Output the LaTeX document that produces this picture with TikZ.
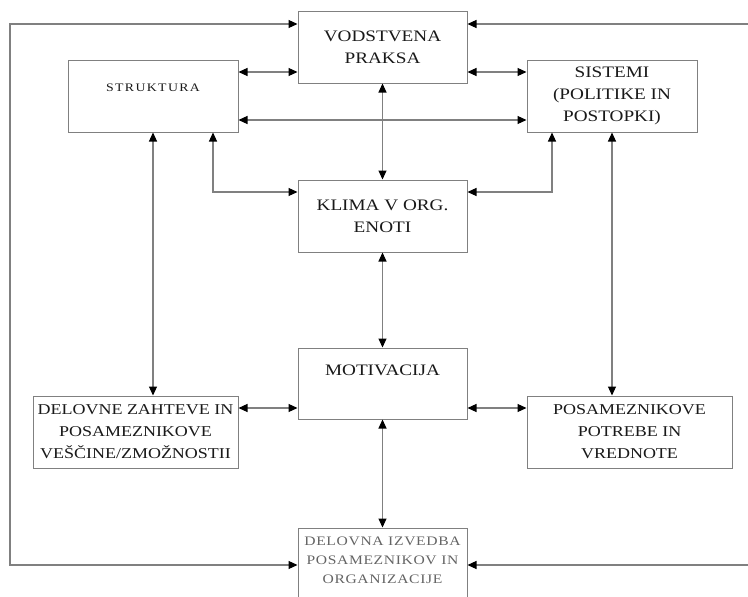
\documentclass[tikz,border=0pt]{standalone}
\usepackage{fontspec}
\setmainfont{Liberation Serif}[FakeStretch=1.2]
\usetikzlibrary{arrows.meta}
\definecolor{linegray}{RGB}{128,128,128}
\definecolor{textdark}{RGB}{25,25,25}
\definecolor{textlight}{RGB}{100,100,100}
\begin{document}
\begin{tikzpicture}[x=1pt,y=-1pt,
  frame/.style={draw=linegray, line width=1pt, rectangle, inner sep=0pt,
    text=textdark, minimum width=169pt, minimum height=72pt},
  box/.style={frame, align=center, font=\fontsize{16}{22}\selectfont},
  widebox/.style={frame, align=center, minimum width=205pt,
    font=\fontsize{15}{22}\selectfont},
  tip/.tip={Triangle[length=9pt,width=8pt,color=black]},
  link/.style={draw=linegray, line width=1.1pt, tip-tip},
  feed/.style={draw=linegray, line width=1.1pt, -tip}]
\useasboundingbox (0,0) rectangle (748,597);
\clip (0,0) rectangle (748,597);

% boxes
\node[box] (vod) at (382.5,47) {VODSTVENA\\PRAKSA};
\node[frame, minimum width=170pt, text height=7.6pt, text depth=16pt,
  font=\fontsize{11.5}{14}\selectfont\addfontfeature{LetterSpace=12}]
  (str) at (153,96) {STRUKTURA};
\node[box, minimum width=170pt] (sis) at (612,96) {SISTEMI\\(POLITIKE IN\\POSTOPKI)};
\node[box] (kli) at (382.5,216) {KLIMA V ORG.\\ENOTI};
\node[frame, minimum height=71pt, text height=10.6pt, text depth=27pt,
  font=\fontsize{16}{22}\selectfont] (mot) at (382.5,383.5) {MOTIVACIJA};
\node[widebox] (del) at (135.5,432) {DELOVNE ZAHTEVE IN\\POSAMEZNIKOVE\\VEŠČINE/ZMOŽNOSTII};
\node[widebox] (pos) at (629.5,432) {POSAMEZNIKOVE\\POTREBE IN\\VREDNOTE};
\node[frame, align=center, text=textlight,
  font=\fontsize{13}{19}\selectfont\addfontfeature{LetterSpace=5}]
  (izv) at (382.5,564) {DELOVNA IZVEDBA\\POSAMEZNIKOV IN\\ORGANIZACIJE\\[-11pt]\mbox{}};

% routing points
\coordinate (lt) at (10,24);
\coordinate (lb) at (10,565);
\coordinate (rt) at (748,24);
\coordinate (rb) at (748,565);
\coordinate (up) at (0,72);
\coordinate (mid) at (0,120);
\coordinate (low) at (0,408);
\coordinate (ks) at (213,192);
\coordinate (ss) at (552,192);

% outer feedback loop
\draw[link] (vod.west |- lt) -- (lt) -- (lb) -- (izv.west |- lb);
\draw[feed] (rt) -- (vod.east |- rt);
\draw[feed] (rb) -- (izv.east |- rb);

% upper connections
\draw[link] (str.east |- up) -- (vod.west |- up);
\draw[link] (vod.east |- up) -- (sis.west |- up);
\draw[link] (str.east |- mid) -- (sis.west |- mid);
\draw[link] (vod.south) -- (kli.north);
\draw[link] (ks |- str.south) |- (kli.west |- ks);
\draw[link] (ss |- sis.south) |- (kli.east |- ss);

% lower connections
\draw[link] (str.south) -- (str.south |- del.north);
\draw[link] (sis.south) -- (sis.south |- pos.north);
\draw[link] (kli.south) -- (mot.north);
\draw[link] (del.east |- low) -- (mot.west |- low);
\draw[link] (mot.east |- low) -- (pos.west |- low);
\draw[link] (mot.south) -- (izv.north);
\end{tikzpicture}
\end{document}
